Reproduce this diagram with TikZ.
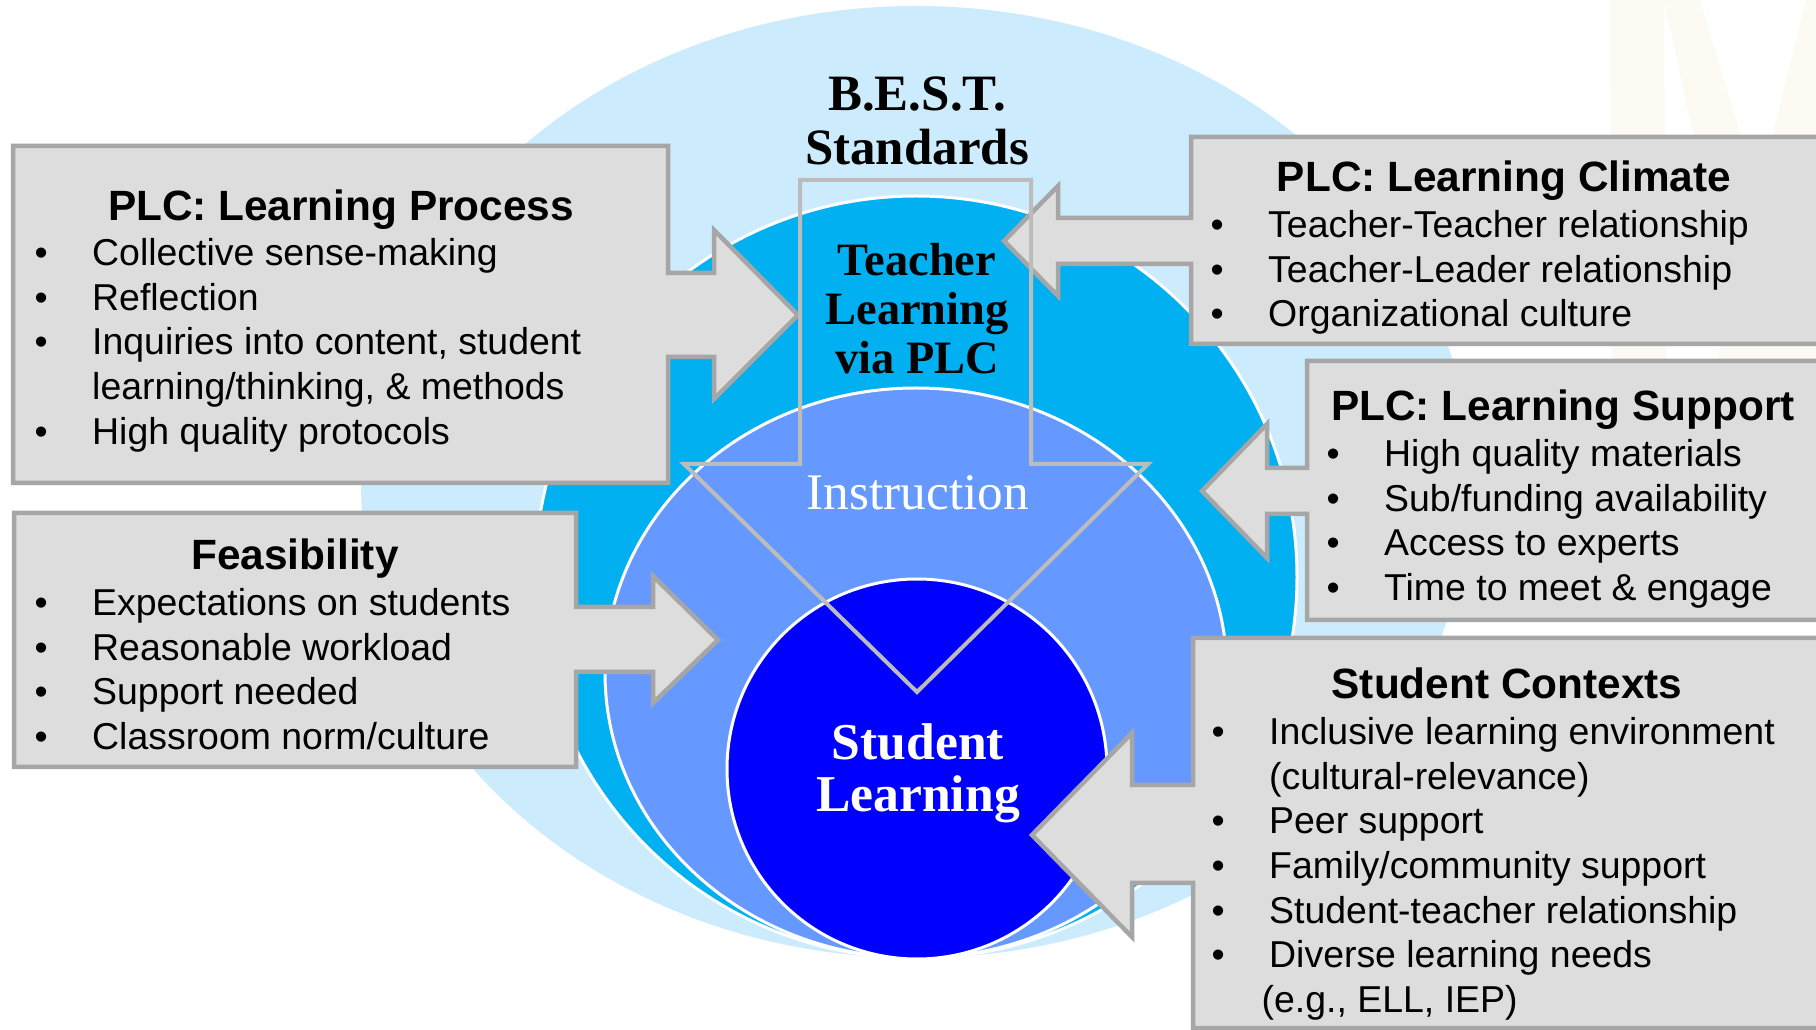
\documentclass[tikz,border=0pt]{standalone}
\usepackage{fontspec}
\setmainfont{Liberation Sans}
\newfontfamily\gara{Liberation Serif}

\definecolor{paleblue}{RGB}{204,236,253}
\definecolor{skyblue}{RGB}{0,176,240}
\definecolor{midblue}{RGB}{102,153,255}
\definecolor{deepblue}{RGB}{0,0,255}
\definecolor{boxfill}{RGB}{221,221,221}
\definecolor{boxline}{RGB}{166,166,166}
\definecolor{arrowline}{RGB}{188,188,188}
\definecolor{markbeige}{RGB}{252,250,243}

\newcommand{\itm}{\makebox[5.75mm][l]{\textbullet}}
\newcommand{\cnt}{\hspace*{5.75mm}}

\begin{document}
\begin{tikzpicture}[x=0.1mm, y=-0.1mm,
    ring/.style={draw=white, line width=0.3mm},
    callout/.style={fill=boxfill, draw=boxline, line width=0.45mm, line join=miter},
    boxtitle/.style={anchor=base, inner sep=0, font=\bfseries\fontsize{12.05}{14}\selectfont},
    bullets/.style={anchor=base west, inner sep=0, font=\fontsize{10.65}{12.7}\selectfont},
    ringtext/.style={anchor=base, inner sep=0, font=\gara\bfseries\fontsize{13.2}{13.9}\selectfont}]

    \useasboundingbox (0,0) rectangle (1816,1030);
    \clip (0,0) rectangle (1816,1030);
    \fill[white] (0,0) rectangle (1816,1030);

    % faint logo in the corner
    \fill[markbeige] (1610,0) -- (1664,0) -- (1666,360) -- (1612,360) -- cycle;
    \fill[markbeige] (1664,0) -- (1700,0) -- (1808,360) -- (1742,360) -- cycle;
    \fill[markbeige] (1806,0) -- (1816,0) -- (1816,360) -- (1717,360) -- cycle;

    % nested rings, all touching at the bottom
    \fill[paleblue] (916,482) ellipse [x radius=555, y radius=476];
    \filldraw[fill=skyblue, ring] (916,577) circle [radius=381];
    \filldraw[fill=midblue, ring] (916,673) ellipse [x radius=311, y radius=285];
    \filldraw[fill=deepblue, ring] (917,769) circle [radius=190];

    \node[ringtext, font=\gara\bfseries\fontsize{14.5}{15.3}\selectfont] (best) at (917,110.5)
        {\begin{tabular}[t]{@{}c@{}}B.E.S.T.\\Standards\end{tabular}};
    \node[ringtext] (teacher) at (917,275.5)
        {\begin{tabular}[t]{@{}c@{}}Teacher\\Learning\\via PLC\end{tabular}};
    \node[ringtext, white, font=\gara\fontsize{14.6}{15}\selectfont] (instr) at (918,509.5) {Instruction};
    \node[ringtext, white, font=\gara\bfseries\fontsize{14.7}{14.8}\selectfont] (student) at (918,759.5)
        {\begin{tabular}[t]{@{}c@{}}Student\\Learning\end{tabular}};

    % left callouts
    \draw[callout] (13,146) -- (668,146) -- (668,273) -- (714,273) -- (714,230) -- (798,315)
        -- (714,399) -- (714,357) -- (668,357) -- (668,483) -- (13,483) -- cycle;
    \draw[callout] (14,513) -- (576,513) -- (576,607) -- (653,607) -- (653,576) -- (718,640)
        -- (653,703) -- (653,672) -- (576,672) -- (576,767) -- (14,767) -- cycle;

    % right callouts
    \draw[callout] (1830,137) -- (1191,137) -- (1191,218) -- (1058,218) -- (1058,186) -- (1004,241)
        -- (1058,296) -- (1058,264) -- (1191,264) -- (1191,344) -- (1830,344);
    \draw[callout] (1830,361) -- (1307,361) -- (1307,468) -- (1267,468) -- (1267,424) -- (1202,491)
        -- (1267,558) -- (1267,514) -- (1307,514) -- (1307,620) -- (1830,620);
    \draw[callout] (1830,638) -- (1193,638) -- (1193,785) -- (1132,785) -- (1132,733) -- (1032,835)
        -- (1132,937) -- (1132,883) -- (1193,883) -- (1193,1028) -- (1830,1028);

    \node[boxtitle] (proctitle) at (341,220.5) {PLC: Learning Process};
    \node[bullets] (procitems) at (34,265.5) {\begin{tabular}[t]{@{}l@{}}
        \itm Collective sense-making\\
        \itm Reflection\\
        \itm Inquiries into content, student\\
        \cnt learning/thinking, \& methods\\
        \itm High quality protocols
        \end{tabular}};

    \node[boxtitle] (feastitle) at (295,569.5) {Feasibility};
    \node[bullets] (feasitems) at (34,615.5) {\begin{tabular}[t]{@{}l@{}}
        \itm Expectations on students\\
        \itm Reasonable workload\\
        \itm Support needed\\
        \itm Classroom norm/culture
        \end{tabular}};

    \node[boxtitle] (climtitle) at (1504,191.5) {PLC: Learning Climate};
    \node[bullets] (climitems) at (1210,237.5) {\begin{tabular}[t]{@{}l@{}}
        \itm Teacher-Teacher relationship\\
        \itm Teacher-Leader relationship\\
        \itm Organizational culture
        \end{tabular}};

    \node[boxtitle] (supptitle) at (1563,420.5) {PLC: Learning Support};
    \node[bullets] (suppitems) at (1326,466.5) {\begin{tabular}[t]{@{}l@{}}
        \itm High quality materials\\
        \itm Sub/funding availability\\
        \itm Access to experts\\
        \itm Time to meet \& engage
        \end{tabular}};

    \node[boxtitle] (conttitle) at (1507,698.5) {Student Contexts};
    \node[bullets] (contitems) at (1211,744.5) {\begin{tabular}[t]{@{}l@{}}
        \itm Inclusive learning environment\\
        \cnt (cultural-relevance)\\
        \itm Peer support\\
        \itm Family/community support\\
        \itm Student-teacher relationship\\
        \itm Diverse learning needs\\
        \hspace*{5.0mm}(e.g., ELL, IEP)
        \end{tabular}};

    % hollow arrow from the standards down into student learning
    \draw[arrowline, line width=0.4mm, line join=miter] (800,180) -- (1031,180) -- (1031,464)
        -- (1148,464) -- (917,692) -- (684,464) -- (800,464) -- cycle;
\end{tikzpicture}
\end{document}
